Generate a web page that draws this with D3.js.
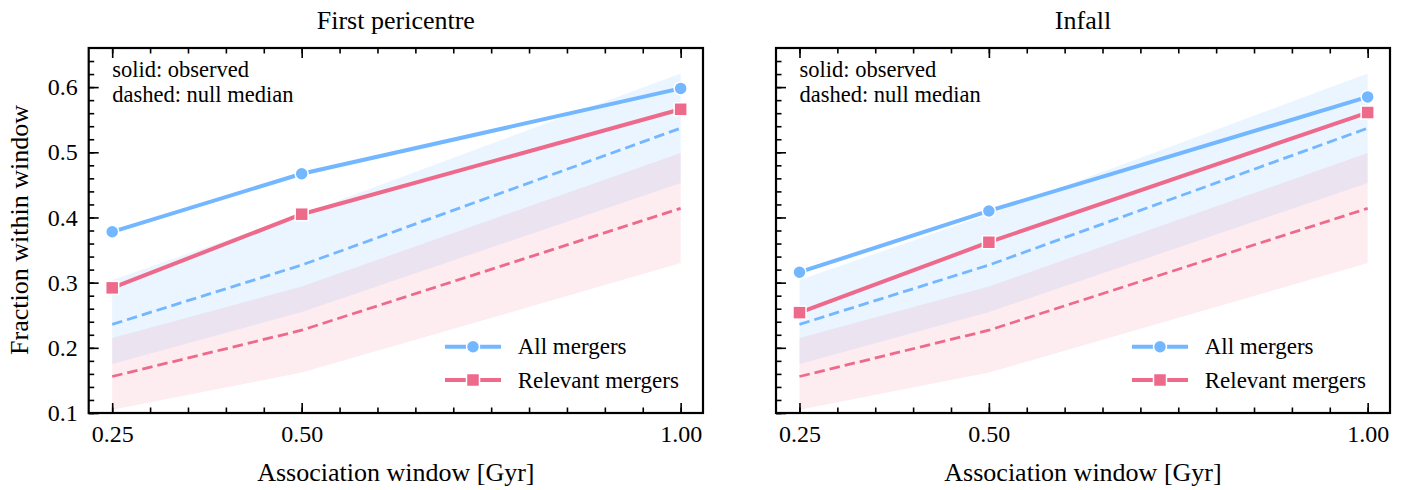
<!DOCTYPE html>
<html>
<head>
<meta charset="utf-8">
<script src="https://cdn.jsdelivr.net/npm/d3@7"></script>
<style>
  html, body { margin: 0; padding: 0; background: #fff; }
  svg { display: block; }
  text { font-family: "Liberation Serif", "Times New Roman", serif; fill: #000; }
</style>
</head>
<body>
<svg id="chart" width="1418" height="490"></svg>
<script>
// ---------- data ----------
const windows = [0.25, 0.5, 1.0];
const panelTitles = ["First pericentre", "Infall"];

const obsAllPeri = [0.378, 0.467, 0.598];
const obsRelPeri = [0.292, 0.405, 0.566];
const obsAllInfall = [0.316, 0.410, 0.585];
const obsRelInfall = [0.254, 0.362, 0.561];

const nullAllMed = [0.236, 0.327, 0.537];
const nullAllLo  = [0.175, 0.255, 0.453];
const nullAllHi  = [0.304, 0.405, 0.621];
const nullRelMed = [0.156, 0.227, 0.414];
const nullRelLo  = [0.105, 0.162, 0.330];
const nullRelHi  = [0.215, 0.294, 0.499];

const xMajorTicks = [0.25, 0.5, 1.0];
const xTickLabels = ["0.25", "0.50", "1.00"];
const xMinorTicks = [0.25, 0.3, 0.35, 0.4, 0.45, 0.5, 0.55, 0.6, 0.65, 0.7, 0.75, 0.8, 0.85, 0.9, 0.95, 1.0];
const yMajorTicks = [0.1, 0.2, 0.3, 0.4, 0.5, 0.6];
const yMinorTicks = [0.1, 0.12, 0.14, 0.16, 0.18, 0.2, 0.22, 0.24, 0.26, 0.28, 0.3, 0.32, 0.34, 0.36, 0.38, 0.4, 0.42, 0.44, 0.46, 0.48, 0.5, 0.52, 0.54, 0.56, 0.58, 0.6, 0.62, 0.64];

const legendLabels = ["All mergers", "Relevant mergers"];
const noteLines = ["solid: observed", "dashed: null median"];
const xLabel = "Association window [Gyr]";
const yLabel = "Fraction within window";

// ---------- style ----------
const BLUE = "#72B7FF";
const RED = "#EE6A8B";
const FONT = '"Liberation Serif", "Times New Roman", serif';

const svg = d3.select("#chart");

const panels = [
  { x0: 88.7, x1: 703, title: panelTitles[0], all: obsAllPeri, rel: obsRelPeri, showY: true },
  { x0: 776, x1: 1390, title: panelTitles[1], all: obsAllInfall, rel: obsRelInfall, showY: false }
];
const yTop = 48, yBot = 413;

const y = d3.scaleLinear().domain([0.1, 0.66]).range([yBot, yTop]);

panels.forEach((p) => {
  const x = d3.scaleLinear().domain([0.219, 1.0295]).range([p.x0, p.x1]);
  const g = svg.append("g");

  const pts = (arr) => windows.map((w, i) => [w, arr[i]]);
  const band = (lo, hi) => windows.map((w, i) => ({ x: w, lo: lo[i], hi: hi[i] }));
  const area = d3.area().x(d => x(d.x)).y0(d => y(d.lo)).y1(d => y(d.hi));
  const line = d3.line().x(d => x(d[0])).y(d => y(d[1]));

  // bands
  g.append("path").attr("d", area(band(nullAllLo, nullAllHi)))
    .attr("fill", BLUE).attr("fill-opacity", 0.14);
  g.append("path").attr("d", area(band(nullRelLo, nullRelHi)))
    .attr("fill", RED).attr("fill-opacity", 0.13);

  // dashed null medians
  g.append("path").attr("d", line(pts(nullAllMed)))
    .attr("fill", "none").attr("stroke", BLUE).attr("stroke-width", 2.8)
    .attr("stroke-dasharray", "10.5,5");
  g.append("path").attr("d", line(pts(nullRelMed)))
    .attr("fill", "none").attr("stroke", RED).attr("stroke-width", 2.8)
    .attr("stroke-dasharray", "10.5,5");

  // observed
  g.append("path").attr("d", line(pts(p.all)))
    .attr("fill", "none").attr("stroke", BLUE).attr("stroke-width", 4);
  g.append("path").attr("d", line(pts(p.rel)))
    .attr("fill", "none").attr("stroke", RED).attr("stroke-width", 4);

  g.selectAll("circle.m").data(pts(p.all)).enter().append("circle")
    .attr("cx", d => x(d[0])).attr("cy", d => y(d[1])).attr("r", 6.5)
    .attr("fill", BLUE).attr("stroke", "#fff").attr("stroke-width", 1.5);
  g.selectAll("rect.m").data(pts(p.rel)).enter().append("rect")
    .attr("x", d => x(d[0]) - 6.5).attr("y", d => y(d[1]) - 6.5)
    .attr("width", 13).attr("height", 13)
    .attr("fill", RED).attr("stroke", "#fff").attr("stroke-width", 1.5);

  // axes
  g.append("g").attr("transform", `translate(0,${yBot})`)
    .call(d3.axisBottom(x).tickValues(xMajorTicks).tickSizeInner(-10).tickSizeOuter(0).tickPadding(12)
      .tickFormat((d, i) => xTickLabels[i]));
  g.append("g").attr("transform", `translate(0,${yBot})`)
    .call(d3.axisBottom(x).tickValues(xMinorTicks).tickSizeInner(-5.5).tickSizeOuter(0).tickFormat(""));
  g.append("g").attr("transform", `translate(0,${yTop})`)
    .call(d3.axisTop(x).tickValues(xMajorTicks).tickSizeInner(-10).tickSizeOuter(0).tickFormat(""));
  g.append("g").attr("transform", `translate(0,${yTop})`)
    .call(d3.axisTop(x).tickValues(xMinorTicks).tickSizeInner(-5.5).tickSizeOuter(0).tickFormat(""));
  g.append("g").attr("transform", `translate(${p.x0},0)`)
    .call(d3.axisLeft(y).tickValues(yMajorTicks).tickSizeInner(-10).tickSizeOuter(0).tickPadding(11)
      .tickFormat(p.showY ? d3.format(".1f") : ""));
  g.append("g").attr("transform", `translate(${p.x0},0)`)
    .call(d3.axisLeft(y).tickValues(yMinorTicks).tickSizeInner(-5.5).tickSizeOuter(0).tickFormat(""));

  g.selectAll("g").attr("font-family", FONT);
  g.selectAll(".domain").remove();
  g.selectAll(".tick line").attr("stroke", "#000").attr("stroke-width", 1.6);
  g.selectAll(".tick text").style("font-family", FONT).style("font-size", "24px").attr("fill", "#000");

  // frame
  g.append("rect").attr("x", p.x0).attr("y", yTop).attr("width", p.x1 - p.x0).attr("height", yBot - yTop)
    .attr("fill", "none").attr("stroke", "#000").attr("stroke-width", 2.2);

  // title
  g.append("text").attr("x", (p.x0 + p.x1) / 2).attr("y", 29).attr("text-anchor", "middle")
    .style("font-size", "26px").text(p.title);
  // x label
  g.append("text").attr("x", (p.x0 + p.x1) / 2).attr("y", 481).attr("text-anchor", "middle")
    .style("font-size", "26px").text(xLabel);

  // note
  noteLines.forEach((t, i) => {
    g.append("text").attr("x", p.x0 + 23.5).attr("y", 77.3 + i * 24.4)
      .style("font-size", "22.5px").text(t);
  });

  // legend
  const legendItems = [
    { label: legendLabels[0], color: BLUE, shape: "circle", ly: 346.7 },
    { label: legendLabels[1], color: RED, shape: "square", ly: 380 }
  ];
  legendItems.forEach((it) => {
    const lx0 = p.x1 - 258, lx1 = p.x1 - 202, cx = (lx0 + lx1) / 2;
    g.append("line").attr("x1", lx0).attr("x2", lx1).attr("y1", it.ly).attr("y2", it.ly)
      .attr("stroke", it.color).attr("stroke-width", 4);
    if (it.shape === "circle") {
      g.append("circle").attr("cx", cx).attr("cy", it.ly).attr("r", 6.5)
        .attr("fill", it.color).attr("stroke", "#fff").attr("stroke-width", 1.5);
    } else {
      g.append("rect").attr("x", cx - 6.5).attr("y", it.ly - 6.5).attr("width", 13).attr("height", 13)
        .attr("fill", it.color).attr("stroke", "#fff").attr("stroke-width", 1.5);
    }
    g.append("text").attr("x", p.x1 - 185.3).attr("y", it.ly + 7.5)
      .style("font-size", "23px").text(it.label);
  });
});

// y label
svg.append("text").attr("transform", `translate(28.3,230) rotate(-90)`).attr("text-anchor", "middle")
  .style("font-size", "26px").text(yLabel);
</script>
</body>
</html>
